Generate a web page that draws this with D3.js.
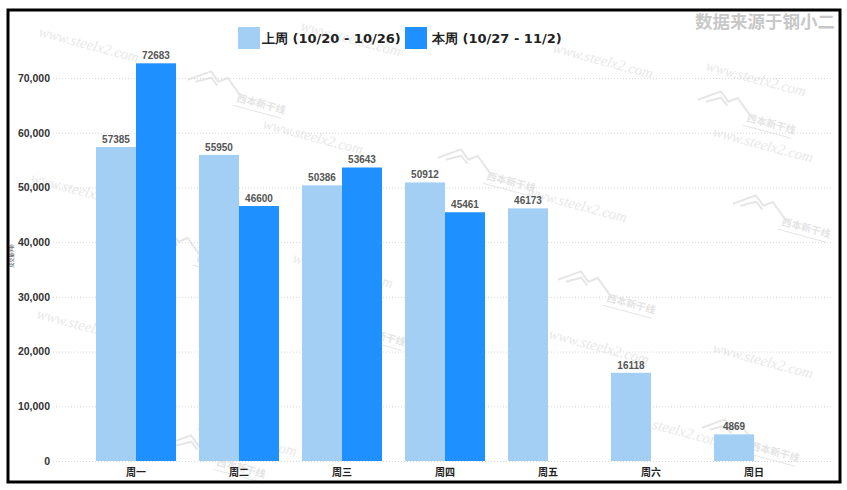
<!DOCTYPE html>
<html><head><meta charset="utf-8">
<script src="https://cdn.jsdelivr.net/npm/d3@7"></script>
<style>body{margin:0;background:#fff}svg{display:block}</style>
</head><body>
<svg id="c" width="847" height="490"></svg>
<script>
const categories = ["周一","周二","周三","周四","周五","周六","周日"];
const lastWeek = [57385, 55950, 50386, 50912, 46173, 16118, 4869];
const thisWeek = [72683, 46600, 53643, 45461, null, null, null];
const seriesNames = ["上周 (10/20 - 10/26)", "本周 (10/27 - 11/2)"];
const yTicks = [0,10000,20000,30000,40000,50000,60000,70000];
const colors = ["#A3CFF5", "#1E90FF"];
const wmText = [[38,36],[300,30],[552,52],[705,70],[262,128],[30,182],[526,196],[712,136],[36,318],[292,262],[548,338],[712,352],[620,420],[196,430]];
const wmLogo = [[190,72],[440,150],[700,92],[150,232],[735,196],[310,304],[560,272],[704,420],[170,436]];

const svg = d3.select("#c");

// watermarks
const wm = svg.append("g").attr("class","watermark");
wmText.forEach(([x,y])=>{
  wm.append("text").attr("transform",`translate(${x},${y}) rotate(15)`)
    .attr("font-family","Liberation Serif, serif").attr("font-style","italic")
    .attr("font-size",15).attr("fill","#e8e8e8").text("www.steelx2.com");
});
wmLogo.forEach(([x,y])=>{
  const g = wm.append("g").attr("transform",`translate(${x},${y}) rotate(15)`);
  g.append("path").attr("d","M0,8 L20,-6 L30,2 L38,-4 L55,10 M8,8 L22,0 L30,6").attr("fill","none").attr("stroke","#e6e6e6").attr("stroke-width",2);
  g.append("text").attr("x",52).attr("y",16).attr("font-family","Noto Sans CJK SC").attr("font-size",10).attr("font-weight","bold").attr("fill","#e4e4e4").text("西本新干线");
  g.append("line").attr("x1",50).attr("x2",100).attr("y1",21).attr("y2",21).attr("stroke","#e6e6e6").attr("stroke-width",1);
});

const x0 = d3.scaleBand().domain(categories).range([65.1, 824.9]).paddingInner(23/103).paddingOuter(0.3);
const x1 = d3.scaleBand().domain([0,1]).range([0, x0.bandwidth()]);
const y = d3.scaleLinear().domain([0,70000]).range([461,78]);

// grid
svg.append("g").selectAll("line").data(yTicks).join("line")
  .attr("x1",53).attr("x2",833).attr("y1",d=>y(d)+0.5).attr("y2",d=>y(d)+0.5)
  .attr("stroke","#d8d8d8").attr("stroke-dasharray","1,2");

// y labels
const yAxis = d3.axisLeft(y).tickValues(yTicks).tickFormat(d3.format(",")).tickSize(0).tickPadding(0);
const ya = svg.append("g").attr("transform","translate(50,0)").call(yAxis);
ya.select(".domain").remove();
ya.selectAll("text").attr("font-family","Liberation Sans, Arial, sans-serif").attr("font-weight","bold").attr("font-size",10.5).attr("fill","#333");

// bars
const series = [lastWeek, thisWeek];
series.forEach((vals,si)=>{
  const g = svg.append("g");
  const data = categories.map((c,i)=>({c, v: vals[i]})).filter(d=>d.v!=null);
  g.selectAll("rect").data(data).join("rect")
    .attr("x",d=>x0(d.c)+x1(si)).attr("width",x1.bandwidth())
    .attr("y",d=>y(d.v)).attr("height",d=>y(0)-y(d.v))
    .attr("fill",colors[si]);
  g.selectAll("text").data(data).join("text")
    .attr("x",d=>x0(d.c)+x1(si)+x1.bandwidth()/2).attr("y",d=>y(d.v)-4)
    .attr("text-anchor","middle").attr("font-family","Liberation Sans, Arial, sans-serif")
    .attr("font-weight","bold").attr("font-size",10).attr("fill","#555").text(d=>d.v);
});

// x labels
const xAxis = d3.axisBottom(x0).tickSize(0).tickPadding(0);
const xa = svg.append("g").attr("transform","translate(0,469)").call(xAxis);
xa.select(".domain").remove();
xa.selectAll("text").attr("font-family","Noto Sans CJK SC, sans-serif").attr("font-weight","bold").attr("font-size",10).attr("fill","#222");

// legend
const leg = [{x:238, tx:262},{x:405, tx:432}];
leg.forEach((l,i)=>{
  svg.append("rect").attr("x",l.x).attr("y",27).attr("width",22).attr("height",22).attr("fill",colors[i]);
  svg.append("text").attr("x",l.tx).attr("y",43).attr("font-family","DejaVu Sans, sans-serif").attr("font-weight","bold").attr("font-size",13).attr("fill","#222").text(seriesNames[i]);
});

// source
svg.append("text").attr("x",835).attr("y",28).attr("text-anchor","end")
  .attr("font-family","Noto Sans CJK SC, sans-serif").attr("font-weight","bold").attr("font-size",17.5).attr("fill","#c8c8c8").text("数据来源于钢小二");

// tiny y-axis title
svg.append("text").attr("transform","translate(13,256) rotate(-90)").attr("text-anchor","middle")
  .attr("font-family","Noto Sans CJK SC, sans-serif").attr("font-size",5).attr("fill","#444").text("成交量(吨)");

// frame
svg.append("rect").attr("x",8).attr("y",10).attr("width",832).attr("height",472)
  .attr("fill","none").attr("stroke","#000").attr("stroke-width",3);
</script>
</body></html>
